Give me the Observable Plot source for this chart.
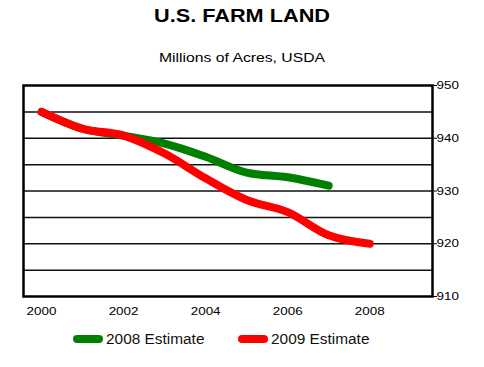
<!DOCTYPE html>
<html><head><meta charset="utf-8">
<script src="https://cdn.jsdelivr.net/npm/d3@7"></script>
<script src="https://cdn.jsdelivr.net/npm/@observablehq/plot@0.6"></script>
<style>
body{margin:0;background:#fff;font-family:"Liberation Sans",Arial,sans-serif;}
#wrap{position:relative;width:484px;height:367px;}
.t{position:absolute;left:0;width:484px;text-align:center;color:#000;transform:scaleX(1.24);transform-origin:242px 0;}
.leg{position:absolute;top:331px;font-size:14px;display:flex;align-items:center;color:#111;}
.leg .lt{display:inline-block;transform:scaleX(1.1);transform-origin:0 50%;}
.sw{display:inline-block;width:30px;height:8px;border-radius:4px;margin-right:3px;}
</style></head>
<body><div id="wrap"></div>
<script>
const years2008 = [2000, 2001, 2002, 2003, 2004, 2005, 2006, 2007];
const est2008   = [945.0, 941.8, 940.5, 939.0, 936.5, 933.5, 932.6, 931.0];
const years2009 = [2000, 2001, 2002, 2003, 2004, 2005, 2006, 2007, 2008];
const est2009   = [945.0, 941.8, 940.5, 937.1, 932.4, 928.3, 926.0, 921.6, 920.0];
const xTicks = [2000, 2002, 2004, 2006, 2008];
const yTicks = [910, 920, 930, 940, 950];
const gridVals = [915, 920, 925, 930, 935, 940, 945];
const seriesNames = ["2008 Estimate", "2009 Estimate"];
const seriesColors = ["#008000", "#ff0000"];

const d08 = years2008.map((y,i)=>({year:y, v:est2008[i]}));
const d09 = years2009.map((y,i)=>({year:y, v:est2009[i]}));

const chart = Plot.plot({
  width: 484, height: 367,
  marginTop: 85, marginBottom: 71, marginLeft: 23, marginRight: 52,
  style: {fontFamily: '"Liberation Sans", Arial, sans-serif', fontSize: "11.5px", color: "#000", background: "#fff"},
  x: {domain: [1999.56, 2009.53], ticks: xTicks, tickFormat: d => String(d), tickSize: 0, tickPadding: 10, label: null},
  y: {domain: [910, 950], ticks: yTicks, tickSize: 4, tickPadding: 0, label: null, axis: "right"},
  marks: [
    Plot.ruleY(gridVals, {stroke: "#111", strokeWidth: 1.5}),
    Plot.line(d08, {x: "year", y: "v", stroke: seriesColors[0], strokeWidth: 8, strokeLinecap: "round", strokeLinejoin: "round", curve: "monotone-x"}),
    Plot.line(d09, {x: "year", y: "v", stroke: seriesColors[1], strokeWidth: 8, strokeLinecap: "round", strokeLinejoin: "round", curve: "monotone-x"}),
    Plot.frame({stroke: "#000", strokeWidth: 2.5})
  ]
});
const wrap = document.getElementById("wrap");
wrap.appendChild(chart);
chart.style.position = "absolute"; chart.style.left = "0"; chart.style.top = "0";
function stretch(sel, s, fs) {
  chart.querySelectorAll(sel).forEach(t=>{
    t.setAttribute("fill","#000");
    if (fs) t.style.fontSize = fs;
    const tr = t.getAttribute("transform") || "";
    t.setAttribute("transform", tr + ` scale(${s},1)`);
  });
}
stretch('[aria-label="x-axis tick label"] text', 1.17);
stretch('[aria-label="y-axis tick label"] text', 1.22, "11px");

const title = document.createElement("div");
title.className = "t"; title.style.top = "6px"; title.style.fontSize = "17.5px"; title.style.fontWeight = "bold";
title.textContent = "U.S. FARM LAND";
wrap.appendChild(title);
const sub = document.createElement("div");
sub.className = "t"; sub.style.top = "51px"; sub.style.fontSize = "12.7px";
sub.textContent = "Millions of Acres, USDA";
wrap.appendChild(sub);

const lefts = [73, 238];
seriesNames.forEach((n,i)=>{
  const l = document.createElement("div");
  l.className = "leg"; l.style.left = lefts[i] + "px";
  const s = document.createElement("span"); s.className = "sw"; s.style.background = seriesColors[i];
  l.appendChild(s);
  const tx = document.createElement("span"); tx.className = "lt"; tx.textContent = n; l.appendChild(tx);
  wrap.appendChild(l);
});
</script></body></html>
